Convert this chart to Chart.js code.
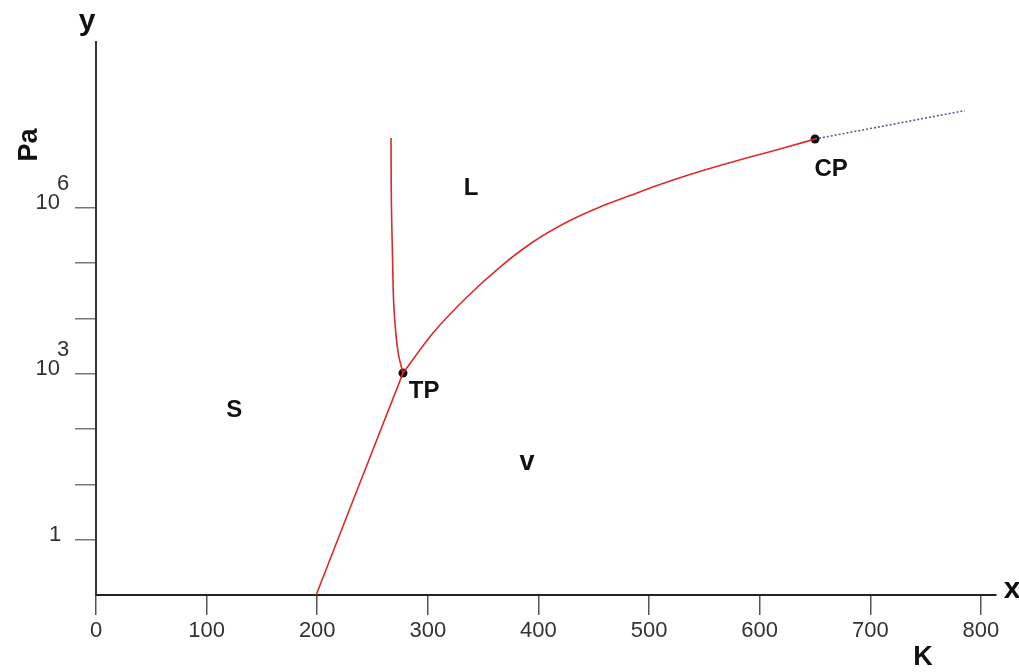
<!DOCTYPE html>
<html>
<head>
<meta charset="utf-8">
<script src="https://cdn.jsdelivr.net/npm/chart.js@4/dist/chart.umd.min.js"></script>
<style>
  body { margin: 0; background: #fff; }
  #wrap { width: 1019px; height: 672px; position: relative; }
</style>
</head>
<body>
<div id="wrap"><canvas id="phase"></canvas></div>
<script>
// temperatures in K, pressures in Pa
const subT = [199, 235, 277.5];
const subP = [0.1, 7.0, 1030];

const meltT = [277.5, 273.5, 270.8, 269.0, 268.1, 267.0, 266.7];
const meltP = [1030, 2190, 6170, 21400, 115000, 1.38e6, 1.84e7];

const vapT = [277.5, 304.6, 335.4, 365.2, 395.0, 425.8, 455.6, 482.7, 509.8, 536.9, 564.0, 591.2, 618.3, 650.0];
const vapP = [1030, 5470, 24500, 85300, 241600, 556000, 1.04e6, 1.67e6, 2.65e6, 4.02e6, 5.85e6, 8.32e6, 1.16e7, 1.76e7];

const superT = [650.0, 785.5];
const superP = [1.76e7, 5.75e7];

const pointNames = ["TP", "CP"];
const pointT = [277.5, 650.0];
const pointP = [1030, 1.76e7];

const xTicks = [0, 100, 200, 300, 400, 500, 600, 700, 800];
const yTicks = [1, 10, 100, 1e3, 1e4, 1e5, 1e6];
const yLabelTicks = [1, 1e3, 1e6];
const yLabelExp = ["", "3", "6"];

// region names, placed in data coordinates
const regionNames = ["L", "S", "v", "TP", "CP"];
const regionT = [339, 124.9, 389.7, 296.6, 664.6];
const regionP = [2.3e6, 222, 25, 480, 5.0e6];

function pairs(xs, ys) {
  return xs.map((x, i) => ({ x: x, y: ys[i] }));
}

const red = "#dd2a2a";

const labelPlugin = {
  id: "phaseLabels",
  afterDraw(chart) {
    const ctx = chart.ctx;
    const xs = chart.scales.x;
    const ys = chart.scales.y;
    ctx.save();
    ctx.fillStyle = "#333";
    ctx.textBaseline = "middle";
    // y tick labels with exponents
    yLabelTicks.forEach((v, i) => {
      const py = ys.getPixelForValue(v);
      ctx.font = "22px 'Liberation Sans', Arial, sans-serif";
      if (yLabelExp[i] === "") {
        ctx.textAlign = "center";
        ctx.fillText("1", 55, py - 5);
      } else {
        ctx.textAlign = "right";
        ctx.fillText("10", 60, py - 5);
        ctx.textAlign = "left";
        ctx.fillText(yLabelExp[i], 57, py - 24);
      }
    });
    // region names
    ctx.fillStyle = "#111";
    ctx.textAlign = "center";
    regionNames.forEach((n, i) => {
      ctx.font = (n === "v" ? "bold 27px" : "bold 24px") + " 'Liberation Sans', Arial, sans-serif";
      ctx.fillText(n, xs.getPixelForValue(regionT[i]), ys.getPixelForValue(regionP[i]));
    });
    // axis titles
    ctx.font = "bold 30px 'Liberation Sans', Arial, sans-serif";
    ctx.fillText("y", 87, 22);
    ctx.fillText("x", 1012, 590);
    ctx.font = "bold 27px 'Liberation Sans', Arial, sans-serif";
    ctx.fillText("K", 923, 658);
    ctx.translate(30, 145);
    ctx.rotate(-Math.PI / 2);
    ctx.fillText("Pa", 0, 0);
    ctx.restore();
  }
};

new Chart("phase", {
  type: "line",
  data: {
    datasets: [
      { data: pairs(subT, subP), borderColor: red, borderWidth: 1.6, pointRadius: 0, tension: 0 },
      { data: pairs(meltT, meltP), borderColor: red, borderWidth: 1.6, pointRadius: 0, tension: 0.3 },
      { data: pairs(vapT, vapP), borderColor: red, borderWidth: 1.6, pointRadius: 0, cubicInterpolationMode: "monotone" },
      { data: pairs(superT, superP), borderColor: "#5a5a9a", borderWidth: 1.6, borderDash: [2, 2], pointRadius: 0 },
      { data: pairs(pointT, pointP), showLine: false, pointRadius: 4.5, pointBackgroundColor: "#111", pointBorderWidth: 0 }
    ]
  },
  options: {
    responsive: true,
    maintainAspectRatio: false,
    animation: false,
    layout: { padding: { top: 42, right: 23, left: 0, bottom: 0 } },
    plugins: { legend: { display: false }, tooltip: { enabled: false } },
    scales: {
      x: {
        type: "linear",
        min: 0,
        max: 813.6,
        afterBuildTicks: s => { s.ticks = xTicks.map(v => ({ value: v })); },
        afterFit: s => { s.height = 77; },
        border: { display: true, color: "#222", width: 2 },
        grid: { drawOnChartArea: false, drawTicks: true, tickLength: 20, color: "#555", lineWidth: 1.5 },
        ticks: {
          padding: 3,
          color: "#333",
          font: { family: "'Liberation Sans', Arial, sans-serif", size: 22 },
          maxRotation: 0
        }
      },
      y: {
        type: "logarithmic",
        min: 0.1,
        max: 1e9,
        afterBuildTicks: s => { s.ticks = yTicks.map(v => ({ value: v })); },
        afterFit: s => { s.width = 96; },
        border: { display: true, color: "#333", width: 2 },
        grid: { drawOnChartArea: false, drawTicks: true, tickLength: 21, color: "#777", lineWidth: 1.5 },
        ticks: { display: false }
      }
    }
  },
  plugins: [labelPlugin]
});
</script>
</body>
</html>
